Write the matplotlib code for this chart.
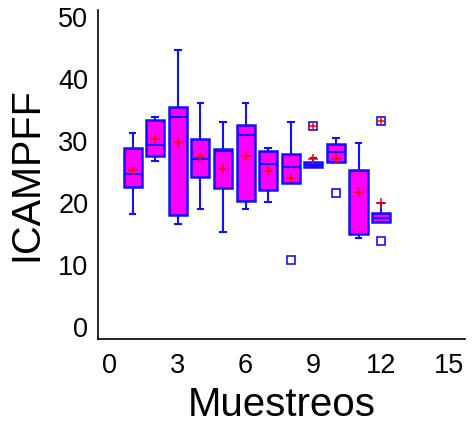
import matplotlib
matplotlib.use("Agg")
import matplotlib.pyplot as plt

plt.rcParams['font.family'] = ['Liberation Sans', 'DejaVu Sans']

muestreos = [1, 2, 3, 4, 5, 6, 7, 8, 9, 10, 11, 12]
q1 = [22.7, 27.7, 18.1, 24.2, 22.5, 20.3, 22.1, 23.2, 25.9, 26.7, 15.0, 17.0]
med = [24.7, 29.4, 34.0, 27.1, 28.4, 31.1, 26.4, 25.9, 26.1, 28.2, 25.2, 17.7]
q3 = [29.0, 33.4, 35.5, 30.3, 28.7, 32.6, 28.5, 27.9, 26.7, 29.6, 25.3, 18.5]
whislo = [18.2, 26.9, 16.7, 19.0, 15.4, 19.0, 20.2, 23.2, 25.9, 26.7, 14.4, 17.0]
whishi = [31.3, 33.9, 44.8, 36.2, 33.1, 36.2, 28.9, 33.1, 27.3, 30.5, 29.7, 20.0]
means = [25.3, 30.3, 29.9, 27.4, 25.6, 27.7, 25.2, 24.1, 27.2, 27.2, 21.9, 20.0]
outliers = [[], [], [], [], [], [], [], [10.8], [32.4], [21.6], [], [33.2, 13.9]]
extremes = [[], [], [], [], [], [], [], [], [32.4], [], [], [33.2]]

stats = []
for i in range(len(muestreos)):
    stats.append(dict(q1=q1[i], med=med[i], q3=q3[i], whislo=whislo[i],
                      whishi=whishi[i], mean=means[i], fliers=outliers[i]))

fig = plt.figure(figsize=(4.72, 4.24), dpi=100)
ax = fig.add_axes([0.2076, 0.2005, 0.777, 0.776])

blue = '#1010FF'
ax.bxp(stats, positions=muestreos, widths=0.8, patch_artist=True,
       showmeans=True, showcaps=True,
       boxprops=dict(facecolor='#FF00FF', edgecolor=blue, linewidth=1.8),
       medianprops=dict(color=blue, linewidth=1.5),
       whiskerprops=dict(color=blue, linewidth=1.5),
       capprops=dict(color=blue, linewidth=1.5),
       meanprops=dict(marker='+', markeredgecolor='red', markersize=7.5, markeredgewidth=1.1),
       flierprops=dict(marker='s', markerfacecolor='none', markeredgecolor=blue,
                       markersize=6, markeredgewidth=1.2),
       capwidths=0.25)

for x, ys in zip(muestreos, extremes):
    for y in ys:
        ax.plot(x, y, marker='+', color='red', markersize=7.5, markeredgewidth=1.1, linestyle='none')

ax.set_xlim(-0.53, 15.7)
ax.set_ylim(-1.9, 51.2)
ax.set_xticks([0, 3, 6, 9, 12, 15])
ax.set_xticklabels(['0', '3', '6', '9', '12', '15'])
ax.set_yticks([0, 10, 20, 30, 40, 50])
ax.tick_params(axis='x', length=0, labelsize=19.5, pad=10)
ax.tick_params(axis='y', length=0, labelsize=19.5, pad=7)
ax.spines['top'].set_visible(False)
ax.spines['right'].set_visible(False)
ax.spines['left'].set_linewidth(1.2)
ax.spines['bottom'].set_linewidth(1.2)
ax.set_xlabel('Muestreos', fontsize=29, labelpad=5)
ax.set_ylabel('ICAMPFF', fontsize=28.5, labelpad=9)

fig.savefig('out.png', dpi=100)
